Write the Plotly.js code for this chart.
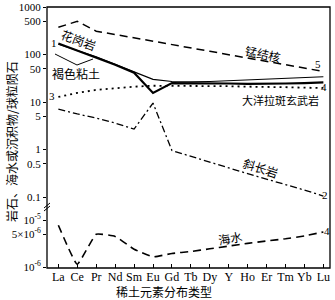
<!DOCTYPE html>
<html>
<head>
<meta charset="utf-8">
<script src="https://cdn.plot.ly/plotly-3.0.1.min.js"></script>
<style>html,body{margin:0;padding:0;background:#fff}#chart{width:335px;height:300px}</style>
</head>
<body>
<div id="chart"></div>
<script>
// categories
var elements = ["La","Ce","Pr","Nd","Sm","Eu","Gd","Tb","Dy","Y","Ho","Er","Tm","Yb","Lu"];
// series values (normalised to chondrite)
var mnNodule   = [375, 500, 310, 265, 225, 190, 162, 138, 117, 99, 84, 72, 61, 52, 44];
var granite    = [171, 121, 88, 61, 41.5, 15.5, 25, 25, 25, 24.5, 24, 24, 24.5, 25, 26];
var brownClay  = [165, 123, 90, 62, 43, 30, 27, 26.5, 27, 28, 29, 30, 31, 32, 34];
var tholeiite  = [12.8, 15.5, 18, 19.8, 21, 22, 22, 22, 22, 21.5, 21, 21, 20.5, 20, 19.8];
var anorthosite= [7.1, 5.6, 4.6, 3.6, 2.7, 9.5, 0.95, 0.71, 0.54, 0.41, 0.31, 0.24, 0.18, 0.14, 0.105];
var seawater   = [7.8e-6, 1.15e-6, 5.0e-6, 4.5e-6, 2.4e-6, 1.65e-6, 1.95e-6, 2.15e-6, 2.45e-6, 2.8e-6, 3.2e-6, 3.6e-6, 4.0e-6, 4.6e-6, 5.6e-6];
// tick labels
var upperTickVals = [1000, 500, 100, 50, 10, 5, 1, 0.5, 0.1];
var upperTickText = ["1000","500","100","50","10","5","1","0.5","0.1"];
var lowerTickVals = [1e-5, 5e-6, 1e-6];
var lowerTickText = ["10<sup>-5</sup>","5×10<sup>-6</sup>","10<sup>-6</sup>"];

var L = 47, T = 7, W = 283, H = 261;
function px(x){ return (x - L) / W; }
function py(y){ return (T + H - y) / H; }

var serif = "Liberation Serif, DejaVu Serif, serif";
var cjk = "Noto Sans CJK SC, sans-serif";

var traces = [
  {x: elements, y: mnNodule, mode: "lines", line: {color: "#000", width: 1.5, dash: "8px,5px"}, xaxis: "x", yaxis: "y"},
  {x: elements, y: brownClay, mode: "lines", line: {color: "#000", width: 1.1}, xaxis: "x", yaxis: "y"},
  {x: elements, y: granite, mode: "lines", line: {color: "#000", width: 2.2}, xaxis: "x", yaxis: "y"},
  {x: elements, y: tholeiite, mode: "lines", line: {color: "#000", width: 1.8, dash: "2px,4px"}, xaxis: "x", yaxis: "y"},
  {x: elements, y: anorthosite, mode: "lines", line: {color: "#000", width: 1.3, dash: "7px,3px,2px,3px"}, xaxis: "x", yaxis: "y"},
  {x: elements, y: seawater, mode: "lines", line: {color: "#000", width: 1.6, dash: "8px,5px", shape: "spline", smoothing: 0.35}, xaxis: "x", yaxis: "y2"}
];

function ann(text, x, y, size, angle, font){
  return {text: text, x: px(x), y: py(y), xref: "paper", yref: "paper", showarrow: false,
          xanchor: "center", yanchor: "middle", textangle: angle || 0,
          font: {family: font || cjk, size: size, color: "#000"}};
}

var layout = {
  width: 335, height: 300,
  margin: {l: L, r: 335 - L - W, t: T, b: 300 - T - H},
  paper_bgcolor: "#fff", plot_bgcolor: "#fff",
  showlegend: false,
  xaxis: {type: "category", categoryarray: elements, range: [-0.6, 14.35], anchor: "y2",
          ticks: "inside", ticklen: 4, tickcolor: "#000", showgrid: false, zeroline: false, showline: false,
          tickfont: {family: serif, size: 12, color: "#000"}},
  yaxis: {type: "log", domain: [61/261, 1], range: [-1.21, 3.0], anchor: "x",
          tickvals: upperTickVals, ticktext: upperTickText, ticks: "outside", ticklen: 3, tickcolor: "#000",
          showgrid: false, zeroline: false, showline: false,
          tickfont: {family: serif, size: 11, color: "#000"}},
  yaxis2: {type: "log", domain: [0, 61/261], range: [-6.02, -4.72], anchor: "x",
          tickvals: lowerTickVals, ticktext: lowerTickText, ticks: "outside", ticklen: 3, tickcolor: "#000",
          showgrid: false, zeroline: false, showline: false,
          tickfont: {family: serif, size: 11, color: "#000"}},
  shapes: [
    {type: "rect", xref: "paper", yref: "paper", x0: 0, x1: 1, y0: 0, y1: 1, line: {color: "#000", width: 1.3}},
    {type: "line", xref: "paper", yref: "paper", x0: px(44), x1: px(50), y0: py(208), y1: py(203), line: {color: "#000", width: 1}},
    {type: "line", xref: "paper", yref: "paper", x0: px(44), x1: px(50), y0: py(211), y1: py(206), line: {color: "#000", width: 1}},
    {type: "path", xref: "paper", yref: "paper",
     path: "M " + px(55) + "," + py(54) + " L " + px(77) + "," + py(65) + " L " + px(93) + "," + py(59),
     line: {color: "#000", width: 1}}
  ],
  annotations: [
    ann("1", 54, 43, 11, 0, serif),
    ann("花岗岩", 79, 39, 12, 20),
    ann("褐色粘土", 76, 73, 12, 0),
    ann("3", 52, 96, 11, 0, serif),
    ann("锰结核", 263, 53, 12, 12),
    ann("5", 318, 64, 11, 0, serif),
    ann("4", 324, 87, 11, 0, serif),
    ann("大洋拉斑玄武岩", 280, 100, 11, 0),
    ann("斜长岩", 261, 167, 12, 18),
    ann("2", 325, 195, 11, 0, serif),
    ann("海水", 230, 237, 12, -10),
    ann("4", 327, 231, 11, 0, serif),
    ann("稀土元素分布类型", 164, 291, 12, 0),
    {text: "岩石、海水或沉积物/球粒陨石", x: px(12), y: py(142), xref: "paper", yref: "paper",
     showarrow: false, xanchor: "center", yanchor: "middle", textangle: -90,
     font: {family: cjk, size: 12, color: "#000"}}
  ]
};

Plotly.newPlot("chart", traces, layout, {displayModeBar: false, staticPlot: true});
</script>
</body>
</html>
